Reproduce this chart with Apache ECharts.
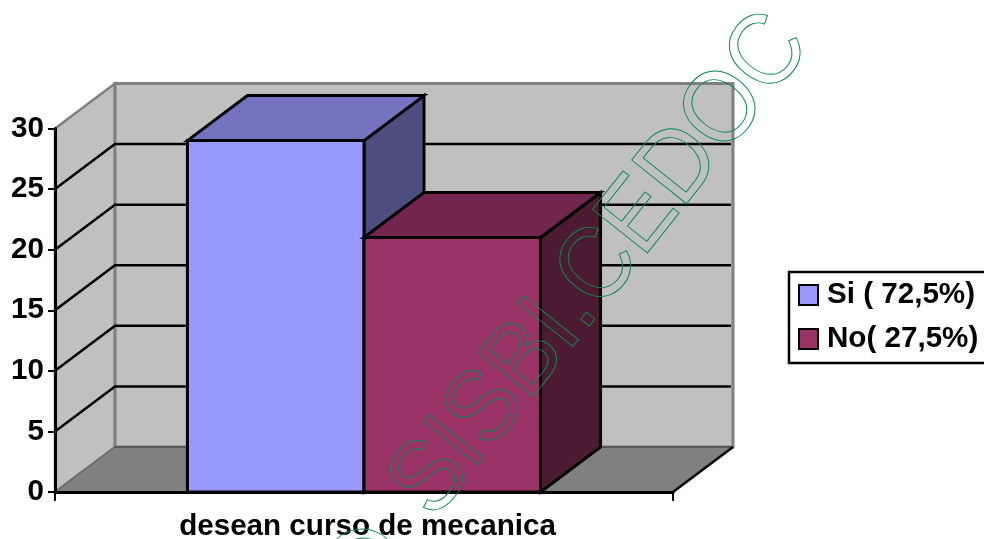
<!DOCTYPE html>
<html><head><meta charset="utf-8">
<style>html,body{margin:0;padding:0;background:#fff}#c{width:984px;height:539px}</style>
<script src="https://cdn.jsdelivr.net/npm/echarts@6/dist/echarts.min.js"></script>
</head><body><div id="c"></div>
<script>
const categories = ['desean curso de mecanica'];
const seriesNames = ['Si ( 72,5%)', 'No( 27,5%)'];
const siValues = [29];
const noValues = [21];
const yTicks = [0, 5, 10, 15, 20, 25, 30];
const watermark = 'SISBI.CEDOC';

const DX = 60, DY = -45, GAP_RATIO = 0.75;
const FRONT = ['#9999ff', '#993366'], TOP = ['#7373bf', '#73264d'], SIDE = ['#4d4d80', '#4d1a33'];

const chart = echarts.init(document.getElementById('c'), null, {renderer: 'canvas'});
const poly = (points, fill, stroke, lw) => ({type: 'polygon', shape: {points},
  style: {fill, stroke: stroke || 'none', lineWidth: lw || 0, lineJoin: 'miter'}});

function renderWalls(params, api) {
  const cs = params.coordSys;
  const l = cs.x, r = cs.x + cs.width, t = cs.y, b = cs.y + cs.height;
  return {type: 'group', children: [
    poly([[l, t], [l + DX, t + DY], [l + DX, b + DY], [l, b]], '#c0c0c0', '#808080', 2.5),
    poly([[l + DX, t + DY], [r + DX, t + DY], [r + DX, b + DY], [l + DX, b + DY]], '#c0c0c0', '#808080', 3),
    poly([[l, b], [l + DX, b + DY], [r + DX, b + DY], [r, b]], '#808080')
  ]};
}
function renderGrid(params, api) {
  const cs = params.coordSys;
  const y = api.coord([0, api.value(0)])[1];
  const l = cs.x, r = cs.x + cs.width;
  if (api.value(0) === 0) {
    return {type: 'group', children: [
      {type: 'line', shape: {x1: l, y1: y, x2: l + DX, y2: y + DY}, style: {stroke: '#595959', lineWidth: 1}},
      {type: 'line', shape: {x1: l + DX, y1: y + DY, x2: r + DX, y2: y + DY}, style: {stroke: '#595959', lineWidth: 2}},
      {type: 'line', shape: {x1: r, y1: y, x2: r + DX, y2: y + DY}, style: {stroke: '#000', lineWidth: 2.5}}
    ]};
  }
  if (api.value(0) === 30) return {type: 'group', children: []};
  return {type: 'polyline', shape: {points: [[l, y], [l + DX, y + DY], [r + DX - 2, y + DY]]},
    style: {stroke: '#000', lineWidth: 2.5, fill: 'none'}};
}
function barRenderer(idx) {
  return function (params, api) {
    const base = api.coord([api.value(0), 0]);
    const top = api.coord([api.value(0), api.value(1)]);
    const band = api.size([1, 0])[0];
    const w = band / (seriesNames.length + 2 * GAP_RATIO);
    const x0 = base[0] + (idx - 1) * w, x1 = x0 + w;
    const yb = base[1], yt = top[1];
    return {type: 'group', children: [
      poly([[x1, yb], [x1 + DX, yb + DY], [x1 + DX, yt + DY], [x1, yt]], SIDE[idx], '#000', 3),
      poly([[x0, yt], [x0 + DX, yt + DY], [x1 + DX, yt + DY], [x1, yt]], TOP[idx], '#000', 3),
      poly([[x0, yb], [x0, yt], [x1, yt], [x1, yb]], FRONT[idx], '#000', 3)
    ]};
  };
}
const FONT = 'Liberation Sans';
const GREEN = '#0b8a55';
chart.setOption({
  animation: false,
  backgroundColor: '#fff',
  grid: {left: 55, top: 128.5, width: 618, height: 363.5, outerBoundsMode: 'none'},
  xAxis: {type: 'category', data: categories,
    axisLine: {show: true, lineStyle: {color: '#000', width: 3}},
    axisTick: {show: true, length: 9, lineStyle: {color: '#000', width: 2}},
    axisLabel: {fontFamily: FONT, fontWeight: 'bold', fontSize: 29.6, color: '#000', margin: 20, padding: [0, 0, 0, 7]},
    splitLine: {show: false}, z: 5},
  yAxis: {type: 'value', min: 0, max: 30, interval: 5,
    axisLine: {show: true, lineStyle: {color: '#000', width: 3}},
    axisTick: {show: true, length: 7, lineStyle: {color: '#000', width: 2}},
    axisLabel: {fontFamily: FONT, fontWeight: 'bold', fontSize: 29.6, color: '#000', margin: 11, padding: [3, 0, 0, 0]},
    splitLine: {show: false}, z: 5},
  legend: {orient: 'vertical', left: 789, top: 272,
    data: seriesNames, backgroundColor: '#fff', borderColor: '#000', borderWidth: 2.5,
    padding: [8, 16, 9, 9], itemGap: 14, itemWidth: 19, itemHeight: 20, icon: 'rect',
    textStyle: {fontFamily: FONT, fontWeight: 'bold', fontSize: 29.6, color: '#000', padding: [0, 0, 0, 4]}},
  series: [
    {type: 'custom', name: 'walls', silent: true, z: 1, renderItem: renderWalls, data: [[0]], encode: {x: 0}, clip: false},
    {type: 'custom', name: 'grid', silent: true, z: 2, renderItem: renderGrid, data: yTicks.map(v => [v]), encode: {y: 0}, clip: false},
    {type: 'custom', name: seriesNames[0], z: 3, renderItem: barRenderer(0), itemStyle: {color: FRONT[0], borderColor: '#000', borderWidth: 2.5},
      data: siValues.map((v, i) => [i, v]), encode: {x: 0, y: 1}, clip: false},
    {type: 'custom', name: seriesNames[1], z: 4, renderItem: barRenderer(1), itemStyle: {color: FRONT[1], borderColor: '#000', borderWidth: 2.5},
      data: noValues.map((v, i) => [i, v]), encode: {x: 0, y: 1}, clip: false}
  ],
  graphic: [
    {type: 'text', z: 100, silent: true, x: 601, y: 266, rotation: 51.5 * Math.PI / 180, scaleX: 0.924,
      style: {text: watermark, font: '102px "Liberation Sans"', fill: 'none', stroke: GREEN, lineWidth: 1, textAlign: 'center', textVerticalAlign: 'middle'}},
    {type: 'circle', z: 100, silent: true, shape: {cx: 362, cy: 566, r: 37}, style: {fill: 'none', stroke: GREEN, lineWidth: 1}},
    {type: 'circle', z: 100, silent: true, shape: {cx: 363, cy: 566, r: 28}, style: {fill: 'none', stroke: GREEN, lineWidth: 1}}
  ]
});
</script></body></html>
